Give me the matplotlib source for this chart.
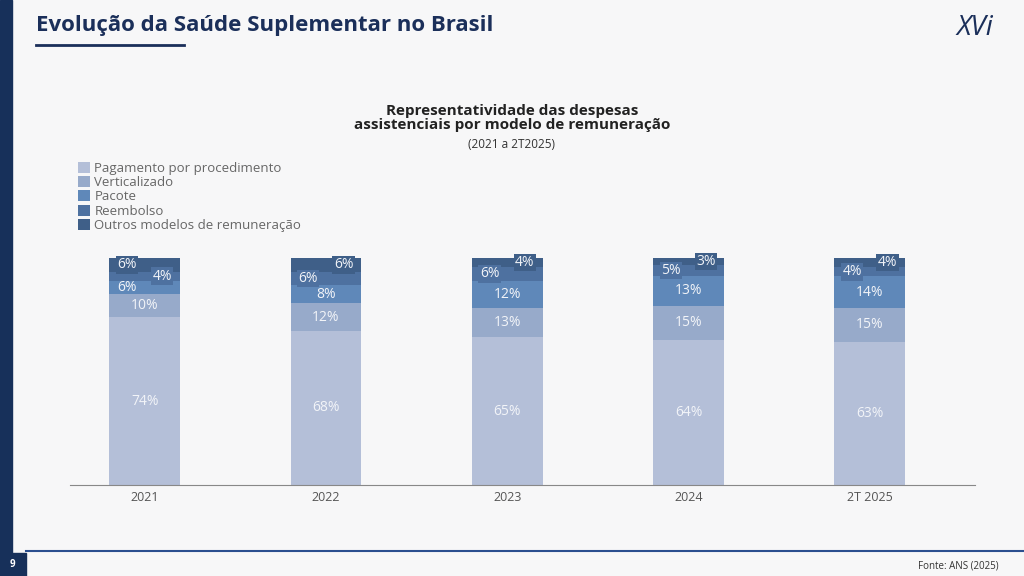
import numpy as np
import matplotlib.pyplot as plt
from matplotlib.patches import Rectangle

years = ['2021', '2022', '2023', '2024', '2T 2025']
series = ['Pagamento por procedimento', 'Verticalizado', 'Pacote', 'Reembolso',
          'Outros modelos de remuneração']
pagamento = [74, 68, 65, 64, 63]
verticalizado = [10, 12, 13, 15, 15]
pacote = [6, 8, 12, 13, 14]
reembolso = [4, 6, 6, 5, 4]
outros = [6, 6, 4, 3, 4]
colors = ['#b4bfd8', '#97aaca', '#5f88b9', '#4e71a0', '#3f5f88']

# label x offsets (in bar-width fractions) per series per bar
offsets = {
    2: [-0.25, 0, 0, 0, 0],
    3: [0.25, -0.25, -0.25, -0.25, -0.25],
    4: [-0.25, 0.25, 0.25, 0.25, 0.25],
}

plt.rcParams['font.family'] = ['Open Sans', 'DejaVu Sans']
fig = plt.figure(figsize=(10.24, 5.76), dpi=100)
fig.patch.set_facecolor('#f7f7f8')

# page decor
fig.patches.append(Rectangle((0, 0.04), 0.012, 0.96, transform=fig.transFigure, color='#17305a'))
fig.text(0.035, 0.955, 'Evolução da Saúde Suplementar no Brasil', fontsize=16, fontweight='bold',
         color='#1b2f5a', va='center')
fig.lines.append(plt.Line2D([0.035, 0.18], [0.922, 0.922], transform=fig.transFigure, color='#1b2f5a', lw=2))
fig.text(0.97, 0.952, 'XVi', fontsize=20, color='#1b2f5a', ha='right', va='center', style='italic')
fig.lines.append(plt.Line2D([0.025, 1], [0.043, 0.043], transform=fig.transFigure, color='#2b4f8f', lw=1.5))
fig.patches.append(Rectangle((0, 0), 0.025, 0.04, transform=fig.transFigure, color='#17305a'))
fig.text(0.012, 0.02, '9', fontsize=7, color='white', ha='center', va='center', fontweight='bold')
fig.text(0.975, 0.018, 'Fonte: ANS (2025)', fontsize=7, color='#333333', ha='right', va='center')

fig.text(0.5, 0.795, 'Representatividade das despesas\nassistenciais por modelo de remuneração',
         ha='center', va='center', fontsize=11, fontweight='bold', color='#222222', linespacing=1.0)
fig.text(0.5, 0.75, '(2021 a 2T2025)', ha='center', va='center', fontsize=8.5, color='#333333')

ax = fig.add_axes([0.068, 0.158, 0.884, 0.394])
ax.set_facecolor('none')
data = [pagamento, verticalizado, pacote, reembolso, outros]
x = np.arange(len(years))
w = 0.39
bottom = np.zeros(len(years))
for i, (vals, name, c) in enumerate(zip(data, series, colors)):
    vals = np.array(vals, dtype=float)
    ax.bar(x, vals, w, bottom=bottom, color=c, label=name)
    for j in range(len(years)):
        off = offsets.get(i, [0] * 5)[j] * w
        box = dict(boxstyle='square,pad=0.1', fc=c, ec='none') if i >= 3 else None
        ax.text(x[j] + off, bottom[j] + vals[j] / 2, f'{int(vals[j])}%', ha='center', va='center',
                fontsize=10, color='#f2f4f8', bbox=box)
    bottom += vals

ax.set_xlim(-0.414, 4.58)
ax.set_ylim(0, 100)
ax.set_xticks(x)
ax.set_xticklabels(years, fontsize=9, color='#555555')
ax.tick_params(axis='x', length=0, pad=4)
ax.set_yticks([])
for s in ['top', 'right', 'left']:
    ax.spines[s].set_visible(False)
ax.spines['bottom'].set_color('#888888')

leg = fig.legend(loc='upper left', bbox_to_anchor=(0.065, 0.74), frameon=False, fontsize=9.5,
                 handlelength=0.9, handleheight=0.9, handletextpad=0.3, labelspacing=0.1)
for t in leg.get_texts():
    t.set_color('#666666')

fig.savefig('out.png', dpi=100, facecolor=fig.get_facecolor())
